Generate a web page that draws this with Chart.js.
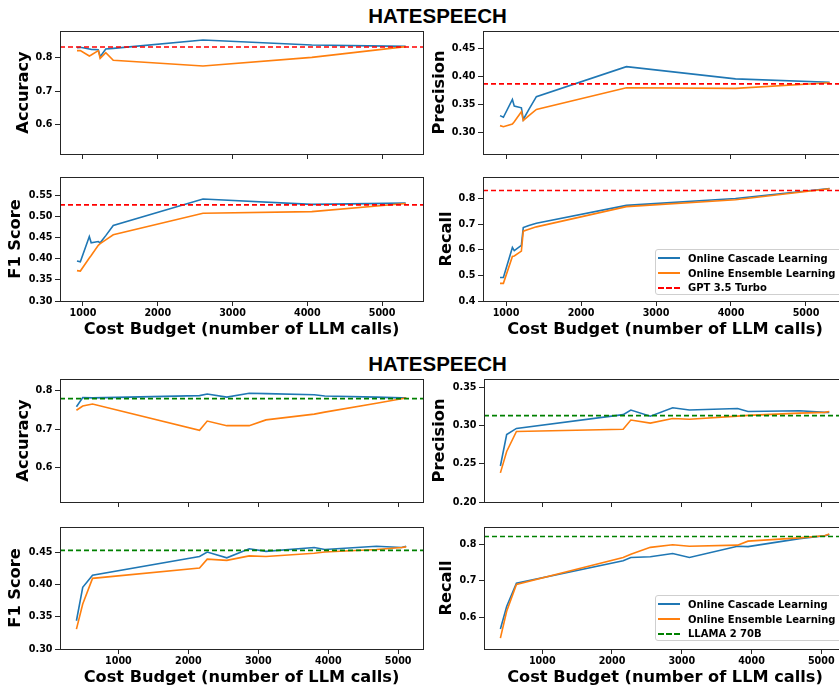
<!DOCTYPE html>
<html>
<head>
<meta charset="utf-8">
<script src="https://cdn.jsdelivr.net/npm/chart.js@4.4.1/dist/chart.umd.min.js"></script>
<style>
    html, body { margin: 0; padding: 0; width: 839px; height: 689px; overflow: hidden; background: #fff; }
    canvas { position: absolute; }
    .title { position: absolute; left: 337.5px; width: 200px; text-align: center; font: bold 20.5px "Liberation Sans", Arial, sans-serif; line-height: 20.5px; color: #000; }
    .legend { position: absolute; width: 190px; height: 46px; border: 1px solid #cfcfcf; border-radius: 3px; background: rgba(255, 255, 255, 0.85); font: bold 10px "DejaVu Sans", sans-serif; color: #000; padding-top: 1px; box-sizing: border-box; }
    .legend .row { display: flex; align-items: center; height: 14.7px; }
    .legend .sw { display: inline-block; width: 22px; margin-left: 2px; margin-right: 8px; height: 0; }
</style>
</head>
<body>
<div class="title" style="top:5.6px">HATESPEECH</div>
<div class="title" style="top:353.6px">HATESPEECH</div>

<canvas id="acc1" width="430" height="135" style="left:0;top:25px"></canvas>
<canvas id="prec1" width="425" height="135" style="left:425px;top:25px"></canvas>
<canvas id="f11" width="430" height="175" style="left:0;top:170px"></canvas>
<canvas id="rec1" width="425" height="175" style="left:425px;top:170px"></canvas>
<canvas id="acc2" width="430" height="135" style="left:0;top:373px"></canvas>
<canvas id="prec2" width="425" height="135" style="left:425px;top:373px"></canvas>
<canvas id="f12" width="430" height="169" style="left:0;top:520px"></canvas>
<canvas id="rec2" width="425" height="169" style="left:425px;top:520px"></canvas>

<div class="legend" style="left:655px;top:249px">
    <div class="row"><span class="sw" style="border-top:2px solid #1f77b4"></span>Online Cascade Learning</div>
    <div class="row"><span class="sw" style="border-top:2px solid #ff7f0e"></span>Online Ensemble Learning</div>
    <div class="row"><span class="sw" style="border-top:2px dashed #ff0000"></span>GPT 3.5 Turbo</div>
</div>
<div class="legend" style="left:655px;top:595px">
    <div class="row"><span class="sw" style="border-top:2px solid #1f77b4"></span>Online Cascade Learning</div>
    <div class="row"><span class="sw" style="border-top:2px solid #ff7f0e"></span>Online Ensemble Learning</div>
    <div class="row"><span class="sw" style="border-top:2px dashed #008000"></span>LLAMA 2 70B</div>
</div>

<script>
// GPT 3.5 Turbo experiment
const gptCost = [920, 965, 1085, 1110, 1205, 1230, 1305, 1405, 2605, 4060, 5315];
const gptAccCascade = [0.830, 0.831, 0.826, 0.825, 0.824, 0.803, 0.826, 0.828, 0.853, 0.838, 0.834];
const gptAccEnsemble = [0.821, 0.821, 0.805, 0.808, 0.821, 0.798, 0.815, 0.792, 0.775, 0.801, 0.833];
const gptPrecCascade = [0.330, 0.327, 0.359, 0.347, 0.344, 0.323, 0.341, 0.364, 0.418, 0.396, 0.390];
const gptPrecEnsemble = [0.312, 0.310, 0.315, 0.319, 0.337, 0.321, 0.330, 0.341, 0.380, 0.379, 0.389];
const gptF1Cascade = [0.395, 0.393, 0.453, 0.438, 0.441, 0.438, 0.455, 0.479, 0.542, 0.529, 0.532];
const gptF1Ensemble = [0.372, 0.371, 0.402, 0.408, 0.432, 0.436, 0.445, 0.457, 0.508, 0.512, 0.531];
const gptRecCascade = [0.492, 0.492, 0.609, 0.597, 0.618, 0.687, 0.695, 0.704, 0.774, 0.801, 0.840];
const gptRecEnsemble = [0.469, 0.469, 0.574, 0.576, 0.595, 0.673, 0.681, 0.690, 0.769, 0.796, 0.839];
const gptRef = { acc: 0.832, prec: 0.387, f1: 0.528, rec: 0.832 };

// LLAMA 2 70B experiment
const llamaCost = [400, 490, 630, 2160, 2270, 2550, 2870, 3110, 3800, 3950, 4690, 5050, 5115];
const llamaAccCascade = [0.758, 0.782, 0.781, 0.787, 0.791, 0.783, 0.793, 0.792, 0.789, 0.786, 0.783, 0.781, 0.781];
const llamaAccEnsemble = [0.749, 0.760, 0.765, 0.697, 0.721, 0.709, 0.709, 0.724, 0.739, 0.744, 0.767, 0.779, 0.781];
const llamaPrecCascade = [0.247, 0.288, 0.296, 0.314, 0.320, 0.312, 0.323, 0.320, 0.322, 0.318, 0.319, 0.317, 0.317];
const llamaPrecEnsemble = [0.238, 0.266, 0.292, 0.295, 0.307, 0.303, 0.309, 0.308, 0.312, 0.313, 0.316, 0.317, 0.318];
const llamaF1Cascade = [0.344, 0.396, 0.415, 0.444, 0.451, 0.442, 0.456, 0.452, 0.458, 0.455, 0.460, 0.458, 0.460];
const llamaF1Ensemble = [0.331, 0.370, 0.410, 0.426, 0.440, 0.438, 0.445, 0.444, 0.449, 0.451, 0.455, 0.458, 0.459];
const llamaRecCascade = [0.567, 0.629, 0.693, 0.755, 0.764, 0.766, 0.775, 0.764, 0.795, 0.794, 0.816, 0.824, 0.827];
const llamaRecEnsemble = [0.542, 0.616, 0.690, 0.764, 0.773, 0.792, 0.799, 0.795, 0.798, 0.809, 0.818, 0.824, 0.829];
const llamaRef = { acc: 0.779, prec: 0.3127, f1: 0.4536, rec: 0.822 };

// tick labels
const costTicks = [1000, 2000, 3000, 4000, 5000];
const accTicks = [0.6, 0.7, 0.8];
const gptPrecTicks = [0.30, 0.35, 0.40, 0.45];
const gptF1Ticks = [0.30, 0.35, 0.40, 0.45, 0.50, 0.55];
const gptRecTicks = [0.4, 0.5, 0.6, 0.7, 0.8];
const llamaPrecTicks = [0.20, 0.25, 0.30, 0.35];
const llamaF1Ticks = [0.30, 0.35, 0.40, 0.45];
const llamaRecTicks = [0.6, 0.7, 0.8];

const BLUE = "#1f77b4";
const ORANGE = "#ff7f0e";
const INK = "#262626";

const framePlugin = {
    id: "frame",
    afterDraw(chart) {
        const a = chart.chartArea;
        const ctx = chart.ctx;
        ctx.save();
        ctx.strokeStyle = INK;
        ctx.lineWidth = 1;
        ctx.strokeRect(Math.round(a.left) + 0.5, Math.round(a.top) + 0.5,
            Math.round(a.right - a.left), Math.round(a.bottom - a.top));
        ctx.restore();
    }
};

function pts(xs, ys) {
    return xs.map((x, i) => ({ x: x, y: ys[i] }));
}

function makePanel(id, p) {
    const tickFont = { family: "DejaVu Sans", weight: "bold", size: 9.6 };
    const titleFont = { family: "DejaVu Sans", weight: "bold", size: 16.2 };
    new Chart(document.getElementById(id), {
        type: "line",
        data: {
            datasets: [
                {
                    label: "Online Cascade Learning",
                    data: pts(p.xs, p.blue),
                    borderColor: BLUE,
                    borderWidth: 1.6,
                    pointRadius: 0,
                    order: 3
                },
                {
                    label: "Online Ensemble Learning",
                    data: pts(p.xs, p.orange),
                    borderColor: ORANGE,
                    borderWidth: 1.6,
                    pointRadius: 0,
                    order: 2
                },
                {
                    label: p.refName,
                    data: [{ x: p.xLim[0], y: p.ref }, { x: p.xLim[1], y: p.ref }],
                    borderColor: p.refColor,
                    borderWidth: 1.6,
                    borderDash: [5, 3],
                    pointRadius: 0,
                    order: 1
                }
            ]
        },
        options: {
            responsive: false,
            animation: false,
            layout: { padding: { left: 0, top: p.padTop, right: p.padRight, bottom: 0 } },
            plugins: { legend: { display: false }, tooltip: { enabled: false } },
            scales: {
                x: {
                    type: "linear",
                    min: p.xLim[0],
                    max: p.xLim[1],
                    afterBuildTicks: s => { s.ticks = costTicks.map(v => ({ value: v })); },
                    afterFit: s => { s.height = p.xH; s.paddingLeft = 0; s.paddingRight = 0; },
                    grid: { drawOnChartArea: false, drawTicks: true, tickLength: 5, color: INK },
                    border: { display: false },
                    ticks: {
                        display: p.showX,
                        color: "#000",
                        font: tickFont,
                        padding: 2,
                        maxRotation: 0,
                        callback: v => String(v)
                    },
                    title: {
                        display: p.showX,
                        text: "Cost Budget (number of LLM calls)",
                        color: "#000",
                        font: titleFont,
                        padding: { top: 0, bottom: p.xTitlePad }
                    }
                },
                y: {
                    min: p.yLim[0],
                    max: p.yLim[1],
                    afterBuildTicks: s => { s.ticks = p.yTicks.map(v => ({ value: v })); },
                    afterFit: s => { s.width = p.yW; s.paddingTop = 0; s.paddingBottom = 0; },
                    grid: { drawOnChartArea: false, drawTicks: true, tickLength: 5, color: INK },
                    border: { display: false },
                    ticks: {
                        color: "#000",
                        font: tickFont,
                        padding: 2.5,
                        callback: v => v.toFixed(p.dec)
                    },
                    title: {
                        display: true,
                        text: p.yTitle,
                        color: "#000",
                        font: titleFont,
                        padding: { top: p.yTitlePad, bottom: 0 }
                    }
                }
            }
        },
        plugins: [framePlugin]
    });
}

const gptX = [693, 5547];
const llamaX = [165, 5355];

makePanel("acc1", { xs: gptCost, blue: gptAccCascade, orange: gptAccEnsemble, ref: gptRef.acc, refColor: "#ff0000", refName: "GPT 3.5 Turbo",
    xLim: gptX, yLim: [0.511, 0.880], yTicks: accTicks, dec: 1, yTitle: "Accuracy", yTitlePad: 14.3,
    yW: 60, padTop: 6, padRight: 7, xH: 6, showX: false, xTitlePad: 0 });
makePanel("prec1", { xs: gptCost, blue: gptPrecCascade, orange: gptPrecEnsemble, ref: gptRef.prec, refColor: "#ff0000", refName: "GPT 3.5 Turbo",
    xLim: gptX, yLim: [0.261, 0.482], yTicks: gptPrecTicks, dec: 2, yTitle: "Precision", yTitlePad: 4.8,
    yW: 58, padTop: 6, padRight: 3, xH: 6, showX: false, xTitlePad: 0 });
makePanel("f11", { xs: gptCost, blue: gptF1Cascade, orange: gptF1Ensemble, ref: gptRef.f1, refColor: "#ff0000", refName: "GPT 3.5 Turbo",
    xLim: gptX, yLim: [0.30, 0.594], yTicks: gptF1Ticks, dec: 2, yTitle: "F1 Score", yTitlePad: 6.3,
    yW: 60, padTop: 7, padRight: 7, xH: 44, showX: true, xTitlePad: 5.3 });
makePanel("rec1", { xs: gptCost, blue: gptRecCascade, orange: gptRecEnsemble, ref: gptRef.rec, refColor: "#ff0000", refName: "GPT 3.5 Turbo",
    xLim: gptX, yLim: [0.40, 0.885], yTicks: gptRecTicks, dec: 1, yTitle: "Recall", yTitlePad: 11.8,
    yW: 58, padTop: 7, padRight: 3, xH: 44, showX: true, xTitlePad: 5.3 });

makePanel("acc2", { xs: llamaCost, blue: llamaAccCascade, orange: llamaAccEnsemble, ref: llamaRef.acc, refColor: "#008000", refName: "LLAMA 2 70B",
    xLim: llamaX, yLim: [0.511, 0.830], yTicks: accTicks, dec: 1, yTitle: "Accuracy", yTitlePad: 13.8,
    yW: 60, padTop: 6, padRight: 7, xH: 6, showX: false, xTitlePad: 0 });
makePanel("prec2", { xs: llamaCost, blue: llamaPrecCascade, orange: llamaPrecEnsemble, ref: llamaRef.prec, refColor: "#008000", refName: "LLAMA 2 70B",
    xLim: llamaX, yLim: [0.20, 0.3605], yTicks: llamaPrecTicks, dec: 2, yTitle: "Precision", yTitlePad: 4.8,
    yW: 59, padTop: 6, padRight: 4, xH: 6, showX: false, xTitlePad: 0 });
makePanel("f12", { xs: llamaCost, blue: llamaF1Cascade, orange: llamaF1Ensemble, ref: llamaRef.f1, refColor: "#008000", refName: "LLAMA 2 70B",
    xLim: llamaX, yLim: [0.30, 0.490], yTicks: llamaF1Ticks, dec: 2, yTitle: "F1 Score", yTitlePad: 6.3,
    yW: 60, padTop: 7, padRight: 7, xH: 40, showX: true, xTitlePad: 1.3 });
makePanel("rec2", { xs: llamaCost, blue: llamaRecCascade, orange: llamaRecEnsemble, ref: llamaRef.rec, refColor: "#008000", refName: "LLAMA 2 70B",
    xLim: llamaX, yLim: [0.512, 0.848], yTicks: llamaRecTicks, dec: 1, yTitle: "Recall", yTitlePad: 11.8,
    yW: 59, padTop: 7, padRight: 4, xH: 40, showX: true, xTitlePad: 1.3 });
</script>
</body>
</html>
